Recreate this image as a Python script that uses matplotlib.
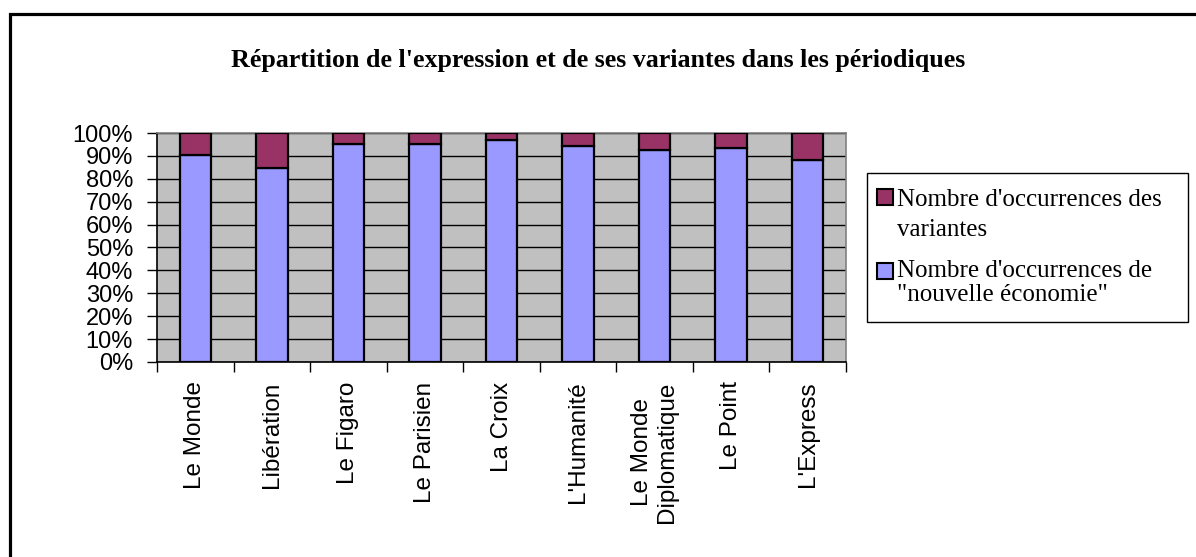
import matplotlib.pyplot as plt
import numpy as np
from matplotlib.patches import Rectangle

# Data (share in %)
journaux = ["Le Monde", "Libération", "Le Figaro", "Le Parisien", "La Croix",
            "L'Humanité", "Le Monde\nDiplomatique", "Le Point", "L'Express"]
nouvelle_eco = [90.2, 84.9, 95.3, 95.3, 96.9, 94.5, 92.7, 93.4, 88.3]
variantes = [100 - v for v in nouvelle_eco]
yticks = [0, 10, 20, 30, 40, 50, 60, 70, 80, 90, 100]

W, H = 1196, 557
fig = plt.figure(figsize=(W / 100, H / 100), dpi=100)
fig.patch.set_facecolor('white')

# outer frame (runs off right and bottom edges)
fig.patches.append(Rectangle((10 / W, -0.2), 1.2, 1.2 - 14 / H,
                             transform=fig.transFigure, fill=False,
                             edgecolor='black', linewidth=2.3))

ax = fig.add_axes([157 / W, 1 - 362 / H, 689 / W, 229 / H])
ax.set_facecolor('#C0C0C0')

x = np.arange(len(journaux))
bw = 0.41
b1 = ax.bar(x, nouvelle_eco, bw, color='#9999FF', edgecolor='black', linewidth=1.6, zorder=3)
b2 = ax.bar(x, variantes, bw, bottom=nouvelle_eco, color='#993366', edgecolor='black',
            linewidth=1.6, zorder=3)

ax.set_xlim(-0.5, len(journaux) - 0.5)
ax.set_ylim(0, 100)
ax.set_yticks(yticks)
ax.set_yticklabels([str(t) + "%" for t in yticks], fontfamily='Liberation Sans', fontsize=17)
ax.tick_params(axis='y', direction='out', length=7.2, width=1, pad=10)
ax.yaxis.grid(True, color='black', linewidth=1)
ax.set_axisbelow(True)

ax.set_xticks(x)
ax.set_xticklabels(journaux, rotation=90, fontfamily='Liberation Sans', fontsize=17.5,
                   va='top', ha='center', multialignment='center')
ax.set_xticks(np.arange(-0.5, len(journaux)), minor=True)
ax.tick_params(axis='x', which='major', length=0, pad=14)
ax.tick_params(axis='x', which='minor', direction='out', length=7, width=1)

for s in ['top', 'right']:
    ax.spines[s].set_color('#808080')
    ax.spines[s].set_linewidth(1.2)
for s in ['left', 'bottom']:
    ax.spines[s].set_color('black')
    ax.spines[s].set_linewidth(1.2)

# title
fig.text(0.5, 1 - 61 / H, "Répartition de l'expression et de ses variantes dans les périodiques",
         ha='center', va='center', fontfamily='Liberation Serif', fontweight='bold', fontsize=18.7)

# legend, drawn by hand to match the two-line entries
fig.patches.append(Rectangle((867 / W, 1 - 322 / H), 321 / W, 149 / H, transform=fig.transFigure,
                             fill=True, facecolor='white', edgecolor='black', linewidth=1))
entries = [(b2.patches[0].get_facecolor(), "Nombre d'occurrences des", "variantes", 197, 206, 236),
           (b1.patches[0].get_facecolor(), "Nombre d'occurrences de", "\"nouvelle économie\"", 271, 277, 301)]
for col, l1, l2, yc, base1, base2 in entries:
    fig.patches.append(Rectangle((877 / W, 1 - (yc + 8) / H), 16 / W, 16 / H, transform=fig.transFigure,
                                 facecolor=col, edgecolor='black', linewidth=1.5))
    fig.text(897 / W, 1 - base1 / H, l1, ha='left', va='baseline', fontfamily='Liberation Serif', fontsize=18)
    fig.text(897 / W, 1 - base2 / H, l2, ha='left', va='baseline', fontfamily='Liberation Serif',
             fontsize=18)

fig.savefig('out.png', dpi=100)
